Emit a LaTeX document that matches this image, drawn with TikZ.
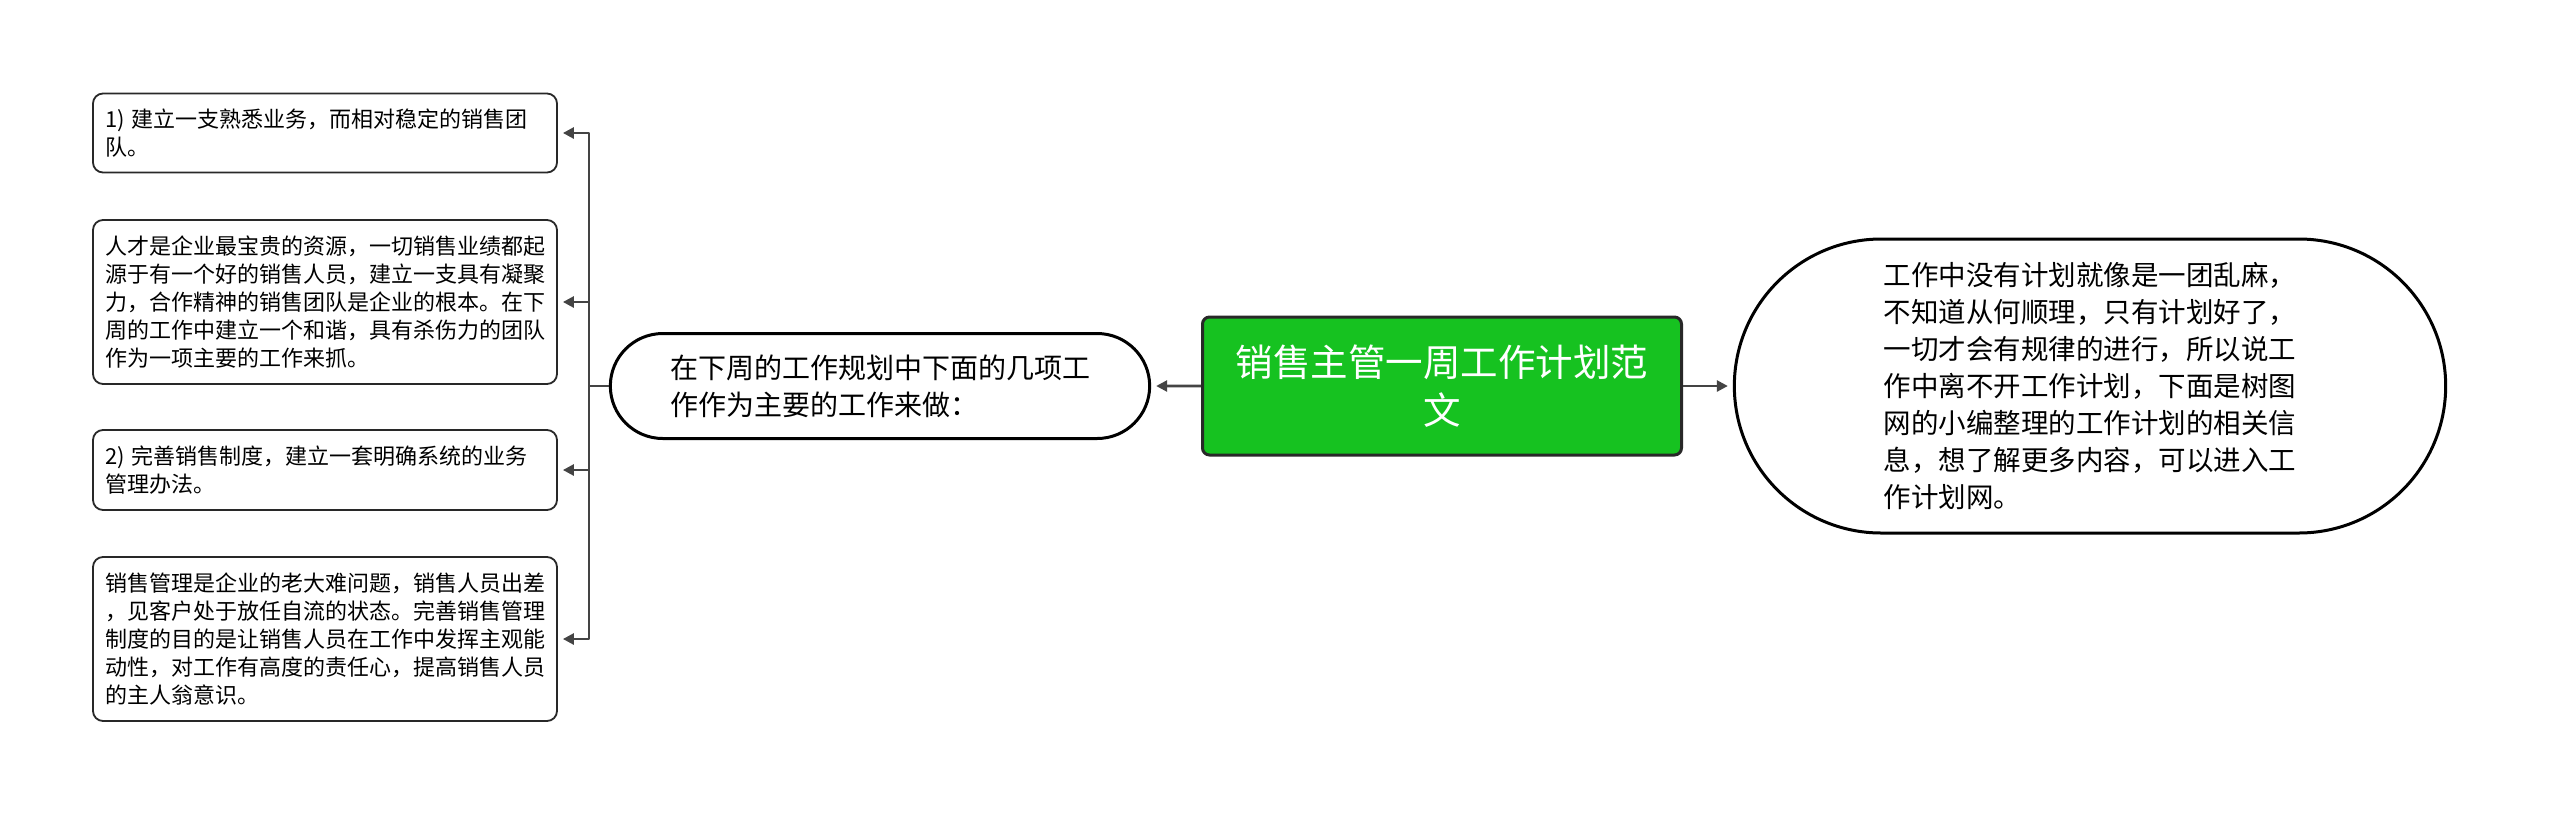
\documentclass[tikz,border=0pt]{standalone}
\usepackage{fontspec}
\setmainfont{Noto Sans CJK SC}
\usetikzlibrary{arrows.meta,shapes.misc}
\definecolor{zhulv}{RGB}{22,194,32}
\definecolor{xianhui}{RGB}{68,68,68}
\definecolor{biankuang}{RGB}{40,40,40}
\begin{document}
\begin{tikzpicture}[x=1pt,y=-1pt,line join=round,
  xiang/.style={draw=biankuang,line width=1.8pt,rounded corners=10pt,
    minimum width=464pt,text width=440pt,inner xsep=12pt,align=left,
    font=\fontsize{22}{28}\selectfont},
  tuoyuan/.style={draw=black,line width=3pt,rounded rectangle,align=left},
  jiantou/.style={draw=xianhui,line width=2.6pt,-{Triangle[length=11pt,width=11pt]},shorten >=5pt},
  xian/.style={draw=xianhui,line width=2.6pt}]
  % 画布范围
  \useasboundingbox[fill=white] (0,0) rectangle (2560,815);

  % 中心主题
  \node[draw=biankuang,line width=3pt,fill=zhulv,rounded corners=7pt,
    minimum width=479pt,minimum height=138pt,align=center,text=white,
    font=\fontsize{37.5}{48}\selectfont] (zhuti) at (1442,386)
    {销售主管一周工作计划范\\文};

  % 左侧分支
  \node[tuoyuan,minimum width=546pt,minimum height=105pt,
    font=\fontsize{28}{37}\selectfont] (zuo) at (880,386)
    {在下周的工作规划中下面的几项工\\作作为主要的工作来做：};

  % 右侧分支
  \node[tuoyuan,minimum width=718pt,minimum height=294pt,
    font=\fontsize{27.5}{37}\selectfont] (you) at (2090,386)
    {工作中没有计划就像是一团乱麻，\\不知道从何顺理，只有计划好了，\\一切才会有规律的进行，所以说工\\作中离不开工作计划，下面是树图\\网的小编整理的工作计划的相关信\\息，想了解更多内容，可以进入工\\作计划网。};

  % 左侧四个条目
  \node[xiang,minimum height=79pt] (item1) at (325,133)
    {1) 建立一支熟悉业务，而相对稳定的销售团\\队。};
  \node[xiang,minimum height=164pt] (item2) at (325,302)
    {人才是企业最宝贵的资源，一切销售业绩都起\\源于有一个好的销售人员，建立一支具有凝聚\\力，合作精神的销售团队是企业的根本。在下\\周的工作中建立一个和谐，具有杀伤力的团队\\作为一项主要的工作来抓。};
  \node[xiang,minimum height=80pt] (item3) at (325,470)
    {2) 完善销售制度，建立一套明确系统的业务\\管理办法。};
  \node[xiang,minimum height=164pt] (item4) at (325,639)
    {销售管理是企业的老大难问题，销售人员出差\\，见客户处于放任自流的状态。完善销售管理\\制度的目的是让销售人员在工作中发挥主观能\\动性，对工作有高度的责任心，提高销售人员\\的主人翁意识。};

  % 连线
  \draw[jiantou] (zhuti) -- (zuo);
  \draw[jiantou] (zhuti) -- (you);
  \coordinate (fencha) at (589,386);
  \draw[xian] (zuo.west) -- (fencha);
  \foreach \n in {item1,item2,item3,item4}
    \draw[jiantou] (fencha) |- (\n.east);
\end{tikzpicture}
\end{document}
